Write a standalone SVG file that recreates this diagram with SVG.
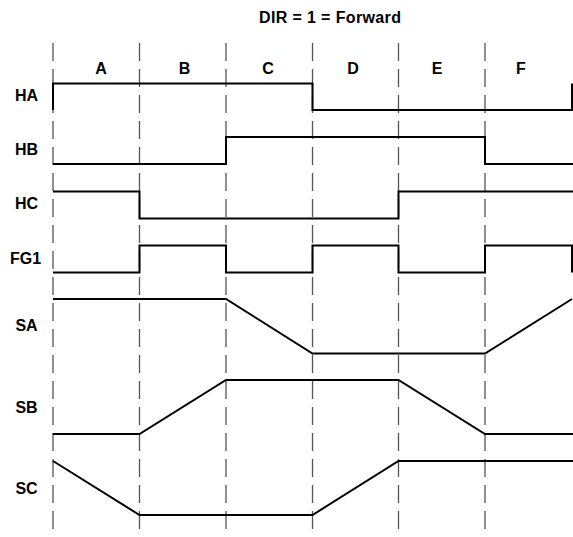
<svg xmlns="http://www.w3.org/2000/svg" width="573" height="537" viewBox="0 0 573 537">
<style>
.t{font-family:"Liberation Sans",Arial,sans-serif;font-weight:bold;font-size:16px;fill:#000}
.lbl{text-anchor:middle}
.grid{stroke:#555;stroke-width:1.3;stroke-dasharray:18 8;fill:none}
.sig{stroke:#000;stroke-width:2;fill:none;stroke-linejoin:miter}
</style>
<rect width="573" height="537" fill="#fff"/>
<g id="grid">
<line class="grid" x1="53" y1="43" x2="53" y2="537"/>
<line class="grid" x1="139.5" y1="43" x2="139.5" y2="537"/>
<line class="grid" x1="226" y1="43" x2="226" y2="537"/>
<line class="grid" x1="312.5" y1="43" x2="312.5" y2="537"/>
<line class="grid" x1="398.5" y1="43" x2="398.5" y2="537"/>
<line class="grid" x1="485" y1="43" x2="485" y2="537"/>
</g>
<g id="title"><text class="t" x="259" y="22.7" font-size="14" textLength="142" lengthAdjust="spacing">DIR = 1 = Forward</text></g>
<g id="phases">
<text class="t lbl" x="101" y="74">A</text>
<text class="t lbl" x="184.5" y="74">B</text>
<text class="t lbl" x="268" y="74">C</text>
<text class="t lbl" x="353" y="74">D</text>
<text class="t lbl" x="437" y="74">E</text>
<text class="t lbl" x="521" y="74">F</text>
</g>
<g id="labels">
<text class="t lbl" x="26.5" y="101">HA</text>
<text class="t lbl" x="26.5" y="155">HB</text>
<text class="t lbl" x="26.5" y="209">HC</text>
<text class="t lbl" x="25.5" y="263.5">FG1</text>
<text class="t lbl" x="26.5" y="331">SA</text>
<text class="t lbl" x="26.5" y="412.5">SB</text>
<text class="t lbl" x="26.5" y="494">SC</text>
</g>
<g id="connectors">
<path id="HA" class="sig" d="M53,110 V83.5 H312.5 V110 H572 V83.5"/>
<path id="HB" class="sig" d="M53,164 H226 V137 H485 V164 H573"/>
<path id="HC" class="sig" d="M53,191.5 H139.5 V218.5 H398.5 V191.5 H573"/>
<path id="FG1" class="sig" d="M53,272.5 H139.5 V245.5 H226 V272.5 H312.5 V245.5 H398.5 V272.5 H485 V245.5 H572 V272.5"/>
<path id="SA" class="sig" d="M53,299 H226 L312.5,353.5 H485 L572,299"/>
<path id="SB" class="sig" d="M53,434 H139.5 L226,380 H398.5 L485,434 H573"/>
<path id="SC" class="sig" d="M53,461 L139.5,515 H312.5 L398.5,461 H573"/>
</g>
</svg>
